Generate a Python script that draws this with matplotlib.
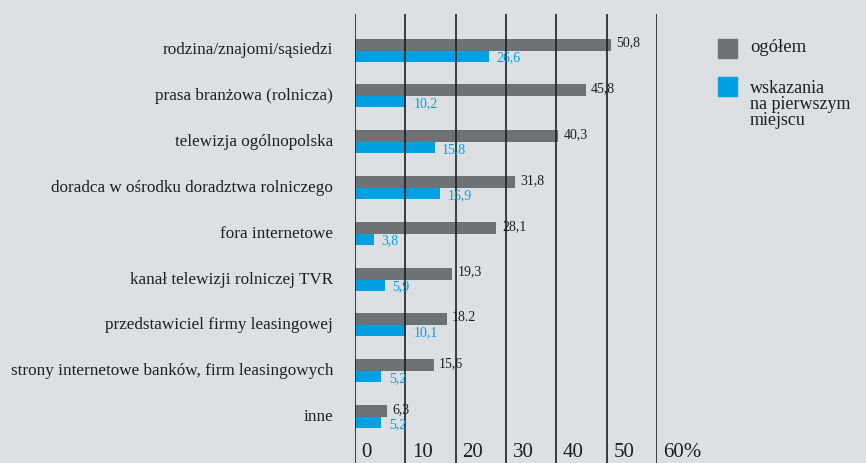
import matplotlib
matplotlib.use("Agg")
import matplotlib.pyplot as plt
import numpy as np

categories = [
    "rodzina/znajomi/sąsiedzi",
    "prasa branżowa (rolnicza)",
    "telewizja ogólnopolska",
    "doradca w ośrodku doradztwa rolniczego",
    "fora internetowe",
    "kanał telewizji rolniczej TVR",
    "przedstawiciel firmy leasingowej",
    "strony internetowe banków, firm leasingowych",
    "inne",
]
overall = [50.8, 45.8, 40.3, 31.8, 28.1, 19.3, 18.2, 15.6, 6.3]
first_place = [26.6, 10.2, 15.8, 16.9, 3.8, 5.9, 10.1, 5.2, 5.2]
overall_labels = ["50,8", "45,8", "40,3", "31,8", "28,1", "19,3", "18.2", "15,6", "6,3"]
first_labels = ["26,6", "10,2", "15,8", "16,9", "3,8", "5,9", "10,1", "5,2", "5,2"]
ticks = [0, 10, 20, 30, 40, 50, 60]
tick_labels = ["0", "10", "20", "30", "40", "50", "60%"]
legend_labels = ["ogółem", "wskazania\nna pierwszym\nmiejscu"]

bg = "#dce0e3"
gray = "#6d7274"
blue = "#00a0e3"
ink = "#1e1e1e"
plt.rcParams["font.family"] = ["Liberation Serif", "DejaVu Serif"]

W, H = 866, 463
fig = plt.figure(figsize=(W / 100, H / 100), dpi=100, facecolor=bg)
# axes: x 0..60 -> px 355..657, y spans px 14..463
ax = fig.add_axes([355 / W, 0, (657 - 355) / W, (H - 14) / H])
ax.set_xlim(0, 60)
row = 45.8
top = (14 - 50.5) / row
bottom = (463 - 50.5) / row
ax.set_ylim(bottom, top)
for s in ax.spines.values():
    s.set_visible(False)
ax.set_xticks([])
ax.set_yticks([])
ax.patch.set_alpha(0)

y = np.arange(len(categories))
hg = 12 / row
hb = 11 / row
ax.barh(y - hg / 2, overall, height=hg, color=gray, zorder=1)
ax.barh(y + hb / 2, first_place, height=hb, color=blue, zorder=1)

for t, lab in zip(ticks, tick_labels):
    ax.axvline(t, color=ink, lw=1.2, zorder=2)
    ax.text(t + 1.3, bottom - 0.02, lab, fontsize=15, color=ink, ha="left", va="bottom")

for i in range(len(categories)):
    ax.text(overall[i] + 1.1, y[i] - hg / 2 - 0.03, overall_labels[i], fontsize=10,
            color=ink, ha="left", va="center", zorder=3)
    ax.text(first_place[i] + 1.5, y[i] + hb / 2 + 0.04, first_labels[i], fontsize=10,
            color=blue, ha="left", va="center", zorder=3)
    ax.text(-22 / 302 * 60, y[i], categories[i], fontsize=12.3, color=ink,
            ha="right", va="center", clip_on=False)

# legend
fig.patches.append(plt.Rectangle((718 / W, 1 - 58 / H), 19 / W, 19 / H,
                                 transform=fig.transFigure, color=gray))
fig.patches.append(plt.Rectangle((718 / W, 1 - 96 / H), 19 / W, 19 / H,
                                 transform=fig.transFigure, color=blue))
fig.text(750 / W, 1 - 48 / H, legend_labels[0], fontsize=13.5, color=ink,
         ha="left", va="center")
fig.text(750 / W, 1 - 80 / H, legend_labels[1], fontsize=13, color=ink,
         ha="left", va="top", linespacing=0.92)

fig.savefig("out.png", dpi=100, facecolor=bg)
